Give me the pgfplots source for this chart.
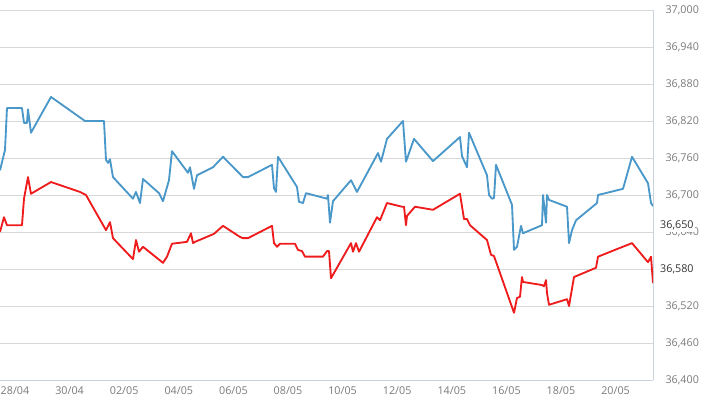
\documentclass[border=0pt]{standalone}
\usepackage{pgfplots}
\pgfplotsset{compat=1.18}
\usepackage{fontspec}
\setmainfont{Open Sans}
\definecolor{blueline}{HTML}{4A98C9}
\definecolor{redline}{HTML}{EE1C1C}
\definecolor{gridc}{HTML}{D8D8D8}
\definecolor{axisc}{HTML}{C8D2DC}
\definecolor{labc}{HTML}{7A7A7A}
\begin{document}
\begin{tikzpicture}[x=1bp,y=1bp]
\useasboundingbox (0,0) rectangle (710,399);
\begin{axis}[
  at={(0bp,19bp)}, anchor=south west,
  scale only axis, width=653bp, height=370bp,
  xmin=-0.549, xmax=23.37, ymin=36400, ymax=37000,
  axis x line*=bottom, axis y line*=right,
  axis line style={axisc, line width=1bp},
  scaled y ticks=false,
  ytick={36400,36460,36520,36580,36640,36700,36760,36820,36880,36940,37000},
  yticklabels={{36,400},{36,460},{36,520},{},{36,640},{36,700},{36,760},{36,820},{36,880},{36,940},{37,000}},
  xtick={0,2,4,6,8,10,12,14,16,18,20,22},
  xticklabels={28/04,30/04,02/05,04/05,06/05,08/05,10/05,12/05,14/05,16/05,18/05,20/05},
  ymajorgrids, grid style={gridc, line width=0.8bp},
  major tick length=0pt,
  x tick style={axisc},
  yticklabel style={anchor=west, xshift=9bp, font=\fontsize{10.8}{12}\selectfont, text=labc},
  xticklabel style={anchor=center, yshift=-11bp, font=\fontsize{10.8}{12}\selectfont, text=labc},
  clip=true,
]
\addplot[blueline, line width=1.85bp, line join=round] coordinates {
(-0.549,36740) (-0.366,36773) (-0.293,36841) (0.256,36841) (0.330,36817) (0.440,36817)
(0.476,36839) (0.586,36801) (1.319,36859) (2.564,36820) (3.260,36820) (3.333,36757)
(3.407,36752) (3.480,36758) (3.590,36729) (4.322,36694) (4.432,36705) (4.579,36687)
(4.689,36726) (5.275,36703) (5.421,36690) (5.641,36724) (5.751,36771) (6.337,36736)
(6.410,36745) (6.557,36710) (6.667,36732) (7.253,36745) (7.619,36762) (8.242,36734)
(8.352,36729) (8.535,36729) (9.414,36749) (9.487,36711) (9.560,36705) (9.634,36762)
(10.330,36713) (10.403,36689) (10.549,36687) (10.659,36703) (11.429,36694) (11.465,36700)
(11.538,36655) (11.648,36690) (12.308,36724) (12.527,36705) (13.297,36768) (13.407,36754)
(13.626,36791) (14.212,36820) (14.322,36754) (14.615,36791) (15.311,36755) (16.300,36794)
(16.374,36763) (16.557,36745) (16.630,36801) (17.289,36732) (17.363,36700) (17.473,36694)
(17.546,36695) (17.619,36749) (18.205,36684) (18.278,36611) (18.388,36616) (18.535,36650)
(18.608,36638) (19.304,36651) (19.341,36700) (19.451,36655) (19.487,36700) (19.560,36692)
(20.220,36681) (20.293,36622) (20.403,36643) (20.549,36659) (21.319,36687) (21.355,36700)
(22.271,36710) (22.601,36762) (23.187,36719) (23.297,36687) (23.370,36682)
};
\addplot[redline, line width=1.85bp, line join=round] coordinates {
(-0.549,36640) (-0.403,36664) (-0.293,36651) (0.256,36651) (0.330,36694) (0.476,36729)
(0.586,36702) (1.319,36721) (2.381,36705) (2.601,36700) (3.333,36643) (3.480,36656)
(3.590,36630) (4.322,36596) (4.432,36627) (4.542,36608) (4.689,36616) (5.421,36590)
(5.568,36600) (5.751,36621) (6.300,36624) (6.447,36638) (6.520,36622) (6.593,36624)
(7.289,36637) (7.619,36650) (8.242,36632) (8.352,36630) (8.535,36630) (9.414,36650)
(9.487,36622) (9.597,36616) (9.707,36621) (10.256,36621) (10.366,36611) (10.513,36609)
(10.623,36600) (11.282,36600) (11.429,36609) (11.502,36609) (11.575,36565) (12.308,36622)
(12.381,36608) (12.491,36622) (12.601,36608) (13.260,36664) (13.370,36659) (13.626,36687)
(14.176,36681) (14.249,36681) (14.322,36651) (14.359,36666) (14.652,36681) (15.311,36676)
(16.300,36702) (16.447,36661) (16.557,36661) (16.667,36651) (17.289,36627) (17.436,36603)
(17.546,36601) (18.278,36509) (18.388,36533) (18.498,36535) (18.571,36567) (18.608,36559)
(19.304,36554) (19.377,36552) (19.451,36562) (19.487,36541) (19.560,36522) (20.220,36531)
(20.293,36520) (20.476,36567) (21.282,36582) (21.355,36600) (22.601,36622) (23.187,36591)
(23.297,36600) (23.370,36557)
};
\end{axis}
\node[anchor=west, fill=white, inner xsep=1bp, inner ysep=1.5bp, text=black!80, font=\fontsize{10.8}{12}\selectfont] at (659bp,173.5bp) {36,650};
\node[anchor=west, inner xsep=1bp, inner ysep=1.5bp, text=black!80, font=\fontsize{10.8}{12}\selectfont] at (659bp,130bp) {36,580};
\end{tikzpicture}
\end{document}
